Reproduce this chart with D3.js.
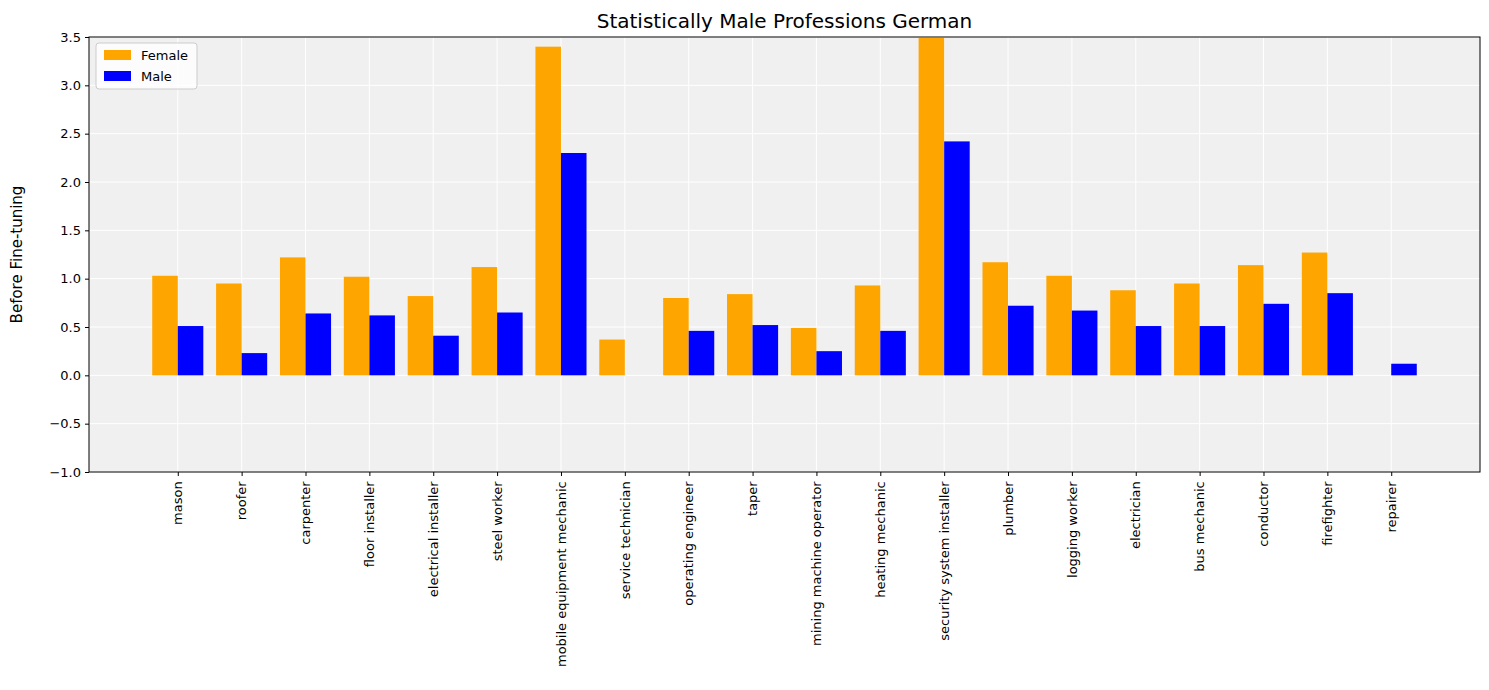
<!DOCTYPE html>
<html><head><meta charset="utf-8">
<script src="https://cdn.jsdelivr.net/npm/d3@7"></script>
<style>body{margin:0;background:#fff;font-family:"DejaVu Sans",sans-serif}</style>
</head><body><div id="chart"></div>
<script>
const categories = ["mason","roofer","carpenter","floor installer","electrical installer","steel worker","mobile equipment mechanic","service technician","operating engineer","taper","mining machine operator","heating mechanic","security system installer","plumber","logging worker","electrician","bus mechanic","conductor","firefighter","repairer"];
const female = [1.03,0.95,1.22,1.02,0.82,1.12,3.40,0.37,0.80,0.84,0.49,0.93,3.49,1.17,1.03,0.88,0.95,1.14,1.27,0];
const male   = [0.51,0.23,0.64,0.62,0.41,0.65,2.30,0,0.46,0.52,0.25,0.46,2.42,0.72,0.67,0.51,0.51,0.74,0.85,0.12];
const yTicks = [-1.0,-0.5,0.0,0.5,1.0,1.5,2.0,2.5,3.0,3.5];

const W = 1489, H = 690;
const m = {left: 89, right: 9, top: 37, bottom: 218};
const svg = d3.select("#chart").append("svg").attr("width", W).attr("height", H);
const x = d3.scaleLinear().domain([-1.39, categories.length - 1 + 1.39]).range([m.left, W - m.right]);
const y = d3.scaleLinear().domain([-1, 3.5]).range([H - m.bottom, m.top]);
const step = x(1) - x(0), bw = step * 0.4;

svg.append("rect").attr("x", m.left).attr("y", m.top)
  .attr("width", W - m.left - m.right).attr("height", H - m.top - m.bottom).attr("fill", "#f0f0f0");

const g = svg.append("g");
g.selectAll(".vg").data(categories).join("line")
  .attr("x1", (d, i) => x(i)).attr("x2", (d, i) => x(i))
  .attr("y1", m.top).attr("y2", H - m.bottom).attr("stroke", "#fff").attr("stroke-width", 1);
g.selectAll(".hg").data(yTicks).join("line")
  .attr("x1", m.left).attr("x2", W - m.right)
  .attr("y1", d => y(d)).attr("y2", d => y(d)).attr("stroke", "#fff").attr("stroke-width", 1);

svg.selectAll(".f").data(female).join("rect")
  .attr("x", (d, i) => x(i) - bw).attr("width", bw)
  .attr("y", d => y(Math.max(0, d))).attr("height", d => Math.abs(y(d) - y(0)))
  .attr("fill", "orange");
svg.selectAll(".m").data(male).join("rect")
  .attr("x", (d, i) => x(i)).attr("width", bw)
  .attr("y", d => y(Math.max(0, d))).attr("height", d => Math.abs(y(d) - y(0)))
  .attr("fill", "blue");

svg.append("rect").attr("x", m.left).attr("y", m.top)
  .attr("width", W - m.left - m.right).attr("height", H - m.top - m.bottom)
  .attr("fill", "none").attr("stroke", "#000").attr("stroke-width", 1);

const yAxis = svg.append("g").attr("transform", `translate(${m.left},0)`)
  .call(d3.axisLeft(y).tickValues(yTicks).tickFormat(d3.format(".1f")).tickSizeOuter(0).tickSize(4).tickPadding(4));
yAxis.select(".domain").remove();
yAxis.selectAll("text").style("font-size", "13px").style("font-family", "DejaVu Sans").attr("fill", "#000");

const xAxis = svg.append("g").attr("transform", `translate(0,${H - m.bottom})`)
  .call(d3.axisBottom(x).tickValues(d3.range(categories.length)).tickFormat(i => categories[i]).tickSize(4).tickSizeOuter(0));
xAxis.select(".domain").remove();
xAxis.selectAll("text").style("font-size", "13px").style("font-family", "DejaVu Sans").attr("fill", "#000")
  .attr("text-anchor", "end").attr("dx", "-0.1em").attr("dy", "0.32em")
  .attr("transform", "translate(0,4) rotate(-90)").attr("y", 0).attr("x", -4);

svg.append("text").attr("x", (m.left + W - m.right) / 2).attr("y", 28)
  .attr("text-anchor", "middle").style("font-size", "20px").text("Statistically Male Professions German");
svg.append("text").attr("transform", `translate(22,${(m.top + H - m.bottom) / 2}) rotate(-90)`)
  .attr("text-anchor", "middle").style("font-size", "15px").text("Before Fine-tuning");

const lg = svg.append("g").attr("transform", "translate(96,43)");
lg.append("rect").attr("width", 101).attr("height", 46).attr("rx", 3)
  .attr("fill", "#fff").attr("fill-opacity", 0.8).attr("stroke", "#ccc");
[["Female", "orange"], ["Male", "blue"]].forEach(([t, c], i) => {
  lg.append("rect").attr("x", 8).attr("y", 7 + i * 21).attr("width", 27).attr("height", 10).attr("fill", c);
  lg.append("text").attr("x", 45).attr("y", 17 + i * 21).style("font-size", "13px").text(t);
});
</script></body></html>
